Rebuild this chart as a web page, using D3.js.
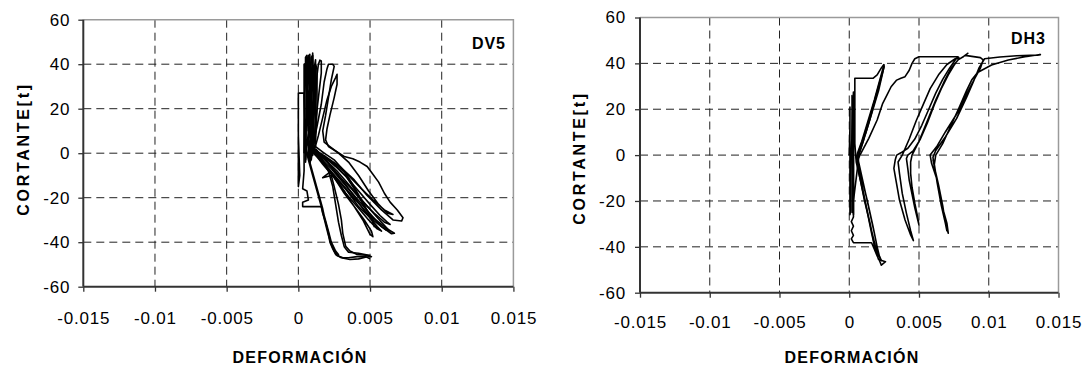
<!DOCTYPE html>
<html><head><meta charset="utf-8">
<script src="https://cdn.jsdelivr.net/npm/d3@7"></script>
<style>body{margin:0;background:#fff} svg{display:block}</style>
</head><body>
<svg id="c" width="1088" height="368"></svg>
<script>
const xTicks = [-0.015,-0.01,-0.005,0,0.005,0.01,0.015];
const xTickLabels = ["-0.015","-0.01","-0.005","0","0.005","0.01","0.015"];
const yTicks = [-60,-40,-20,0,20,40,60];
const xGrid = [-0.01,-0.005,0,0.005,0.01];
const yGrid = [-40,-20,0,20,40];

// ---- DV5 (deformation, shear) ----
const dv5Start = [[0,0],[0,16],[0,-6],[0,-15],[0.0001,-10],[0,8],[0,27],[0.0004,27],[0.0004,10],[0.0004,-8],[0.0003,-16],[0.0006,-17],[0.0007,-21],[0.0003,-22],[0.0003,-24],[0.0012,-24],[0.0016,-24],[0.0017,-27],[0.0019,-31],[0.0021,-36],[0.0022,-40],[0.0024,-43],[0.0026,-45.5],[0.003,-47],[0.0036,-47.8],[0.0042,-47.5],[0.0048,-46.5],[0.0051,-46.5],[0.0049,-46],[0.0041,-45.5],[0.0036,-44],[0.0033,-41.8],[0.0031,-36],[0.003,-30],[0.0028,-23],[0.0025,-15],[0.0023,-10],[0.0017,-11],[0.0022,-8.5],[0.0018,-4.5],[0.0012,-1],[0.0008,2]];
const dv5Core = [[0.0004,0],[0.0005,40],[0.0006,43],[0.0007,10],[0.0005,-4],[0.0006,30],[0.0007,44],[0.0009,20],[0.0008,-2],[0.0007,5],[0.0008,44.5],[0.001,15],[0.0009,0],[0.0009,30],[0.001,45],[0.0011,20],[0.001,2],[0.0011,38],[0.0012,42],[0.0012,10],[0.0008,-5],[0.0006,20],[0.0007,41],[0.0008,40],[0.0009,12],[0.0005,3],[0.0004,25],[0.0004,40],[0.0006,40.5],[0.0007,5]];
const dv5Core2 = [[0.0005,-3],[0.0006,35],[0.0006,42],[0.0008,35],[0.0009,8],[0.0007,-2],[0.0008,25],[0.0009,43],[0.001,44],[0.001,30],[0.0011,8],[0.0009,-3],[0.0011,25],[0.0012,40],[0.0013,38],[0.0013,20],[0.0012,5],[0.001,-1],[0.0007,15],[0.0005,35],[0.0005,43],[0.0006,44],[0.0008,30],[0.0007,10]];
const dv5Drop = [[0.0005,3],[0.0008,-4],[0.0011,-11],[0.0014,-18],[0.0017,-25],[0.0019,-31],[0.0021,-36],[0.0022,-39],[0.0024,-42],[0.0026,-44.5],[0.0028,-45.5],[0.0026,-44],[0.0023,-40],[0.0021,-35],[0.0018,-28],[0.0015,-21],[0.0012,-14],[0.0009,-7],[0.0006,0],[0.0007,-3],[0.001,-10],[0.0013,-17],[0.0016,-24],[0.0019,-32],[0.0021,-37],[0.0023,-41],[0.0025,-44],[0.0027,-46],[0.0031,-47],[0.0035,-47],[0.0041,-46.5],[0.0047,-46.5],[0.005,-47.5]];
const dv5Side = [[0.001,3],[0.0016,-2],[0.0021,-8],[0.0024,-15],[0.0026,-23],[0.0028,-31],[0.003,-37],[0.0032,-42],[0.0035,-44.5],[0.0042,-45],[0.005,-46]];
const dv5Up1 = [[0.0008,3],[0.001,12],[0.0012,25],[0.0013,35],[0.0014,40],[0.0015,41.8],[0.0016,41.5],[0.0016,36],[0.0014,25],[0.0012,14],[0.0011,6],[0.0012,3],[0.0018,0],[0.0025,-3],[0.0032,-8],[0.0038,-14],[0.0044,-21],[0.005,-28],[0.0053,-33],[0.0052,-30],[0.0046,-24],[0.004,-17],[0.0033,-10],[0.0025,-5],[0.0016,-1],[0.001,2]];
const dv5Up2 = [[0.001,3],[0.0013,12],[0.0016,22],[0.0018,32],[0.002,38],[0.0021,40],[0.0024,40],[0.0025,39],[0.0023,33],[0.0021,25],[0.0019,17],[0.0017,10],[0.0018,5],[0.0022,3],[0.0028,0],[0.0035,-4],[0.0042,-10],[0.0049,-17],[0.0056,-23],[0.0062,-27],[0.0066,-27.5],[0.006,-25.5],[0.0052,-21],[0.0044,-16],[0.0035,-10],[0.0026,-5],[0.0017,-1],[0.0011,1]];
const dv5Up3 = [[0.0011,1],[0.0014,8],[0.0017,16],[0.002,24],[0.0023,30],[0.0026,34],[0.0027,35.5],[0.0027,31],[0.0025,25],[0.0022,17],[0.002,11],[0.0019,6],[0.0021,3],[0.0026,1],[0.0032,-1.5],[0.0038,-2.5],[0.0043,-4],[0.0048,-6],[0.0052,-9.5],[0.0056,-13],[0.006,-18],[0.0064,-22],[0.0069,-25.5],[0.0073,-29],[0.0072,-30.5],[0.0066,-30],[0.0058,-25.5],[0.0048,-19],[0.0039,-12],[0.0029,-6],[0.0019,-1.5],[0.0012,1]];
const dv5Mid1 = [[0.0008,4],[0.0016,-3],[0.0024,-9],[0.0032,-15],[0.004,-21],[0.0048,-27],[0.0056,-31],[0.0062,-34],[0.0067,-36],[0.0065,-36.2],[0.0058,-33],[0.005,-29],[0.0042,-24],[0.0034,-17],[0.0026,-11],[0.0018,-5],[0.001,1]];
const dv5Mid2 = [[0.001,2],[0.0017,-4],[0.0025,-11],[0.0032,-18],[0.0039,-24],[0.0046,-30],[0.0051,-35],[0.0052,-37.5],[0.005,-36.5],[0.0045,-30],[0.0038,-23],[0.003,-15],[0.0022,-8],[0.0014,-2],[0.0008,3]];
const dv5Mid3 = [[0.0008,3],[0.0015,-2],[0.0023,-7],[0.0031,-13],[0.0039,-19],[0.0047,-25],[0.0054,-30],[0.0058,-33],[0.0061,-34.5],[0.0063,-34.5],[0.0058,-31],[0.0051,-26],[0.0043,-20],[0.0035,-14],[0.0027,-8],[0.0019,-3],[0.0011,1]];
const dv5Mid4 = [[0.0009,3],[0.0017,-1],[0.0026,-6],[0.0034,-11],[0.0042,-17],[0.005,-23],[0.0057,-28],[0.0062,-31],[0.0064,-32],[0.006,-31],[0.0053,-27],[0.0045,-22],[0.0037,-16],[0.0028,-10],[0.002,-4],[0.0012,1]];
const dv5Mid5 = [[0.0012,2],[0.0019,-3],[0.0027,-9],[0.0035,-16],[0.0043,-23],[0.005,-29],[0.0055,-33],[0.0058,-35],[0.0055,-34],[0.0049,-30],[0.0041,-24],[0.0033,-18],[0.0025,-11],[0.0017,-5],[0.001,1]];

// ---- DH3 ----
const dh3Start = [[0,0],[0.00005,12],[0.00005,21],[0.00005,0],[0.00005,-20],[0.00005,-26],[0.0001,-24],[0.0001,-10],[0.0002,10],[0.0003,27.5],[0.0003,10],[0.0003,-10],[0.0003,-27],[0.00015,-29],[0.0003,-31],[0.00015,-33],[0.0003,-35],[0.00015,-36.5],[0.0003,-38.2],[0.0016,-38.2],[0.0018,-41],[0.002,-44],[0.0022,-46.5],[0.0023,-48],[0.0026,-46.5],[0.0021,-45.5],[0.0019,-42],[0.0016,-34],[0.0012,-22],[0.0008,-11],[0.0005,-3],[0.0004,5],[0.0004,20],[0.0004,33.5],[0.0017,33.5],[0.002,35],[0.0023,38],[0.0025,39.6]];
const dh3Extra = [[0.0003,-26],[0.0003,20],[0.0002,26],[0.0002,-25],[0.0007,0],[0.0011,8],[0.0015,16],[0.0019,25],[0.0023,34],[0.0025,38.5],[0.0021,30],[0.0016,19],[0.0011,9],[0.0007,2]];
const dh3Small = [[0.0025,39.6],[0.0022,33],[0.0018,24],[0.0013,14],[0.0009,6],[0.0006,1],[0.0005,-1],[0.0009,-10],[0.0013,-20],[0.0017,-31],[0.002,-40],[0.0022,-45],[0.0019,-42],[0.0015,-30],[0.0011,-20],[0.0007,-8],[0.0006,-1],[0.0008,3],[0.0012,10],[0.0017,20],[0.0021,28],[0.0024,36],[0.0025,39],[0.0023,35],[0.0019,26],[0.0014,15],[0.001,6],[0.0007,1],[0.0006,-1],[0.001,-12],[0.0014,-23],[0.0018,-34],[0.0021,-43],[0.0023,-46],[0.002,-43],[0.0016,-33],[0.0012,-22],[0.0008,-10],[0.0006,-2]];
const dh3Big = [[0.0006,-2],[0.0009,1.5],[0.0014,7.3],[0.002,15.3],[0.0024,22.6],[0.0027,26.2],[0.003,29.8],[0.0034,32.7],[0.0037,33.5],[0.004,34.2],[0.0043,37],[0.0045,40],[0.0047,42],[0.005,42.9],[0.0065,42.9],[0.0078,42.9],[0.0076,41.5],[0.0072,38],[0.0067,33],[0.0062,27],[0.0057,20],[0.0052,13],[0.0047,7],[0.0042,3],[0.0037,1],[0.0034,0],[0.0033,-2],[0.0032,-5.8],[0.00335,-11],[0.0036,-19.6],[0.004,-28.3],[0.0044,-34.8],[0.0046,-37.3],[0.0044,-33],[0.0041,-25.4],[0.0038,-16.7],[0.0036,-8],[0.0035,-3],[0.0038,0],[0.0043,7],[0.0048,15],[0.0053,22],[0.0058,29],[0.0064,35],[0.007,39.5],[0.0076,42],[0.0079,42.5]];
const dh3Mid = [[0.0079,42.5],[0.0075,39],[0.0071,35],[0.0066,29],[0.0061,22],[0.0056,14],[0.0051,7],[0.0046,2],[0.0042,0],[0.0041,-1.5],[0.0042,-6],[0.0043,-11],[0.0045,-17],[0.0047,-23],[0.0049,-28],[0.005,-30.5],[0.0049,-27],[0.0047,-21],[0.0045,-14],[0.0044,-8],[0.0044,-3],[0.0045,0],[0.005,6],[0.0056,15],[0.0062,24],[0.0068,32],[0.0073,38],[0.0078,41.5],[0.0082,43],[0.0085,44.4],[0.0083,43.5],[0.0094,42.5],[0.0096,41.5],[0.0094,37.9],[0.009,33.5],[0.0085,27.6],[0.0078,18.9],[0.0069,10.2],[0.0063,4],[0.0058,0],[0.0059,-3.6],[0.0063,-10.9],[0.0066,-21],[0.007,-29.7],[0.0071,-34.1],[0.0069,-30],[0.0066,-22],[0.0063,-12],[0.0061,-4],[0.0062,0],[0.0067,5],[0.0073,13],[0.0079,21],[0.0084,28],[0.0088,33],[0.0092,36],[0.0095,37],[0.0102,39.3],[0.0114,41.5],[0.0126,42.9],[0.0137,43.8],[0.0135,43.6],[0.012,43.3],[0.0108,42.8],[0.0097,42],[0.0093,38],[0.0089,32],[0.0084,25],[0.0077,16],[0.0069,8],[0.0062,2],[0.006,-1],[0.0061,-5],[0.0064,-13],[0.0067,-22],[0.0069,-30],[0.007,-33],[0.0068,-27],[0.0065,-17],[0.0062,-8],[0.006,-2]];

const dv5Series = [dv5Start, dv5Core, dv5Core2, dv5Drop, dv5Side, dv5Up1, dv5Up2, dv5Up3, dv5Mid1, dv5Mid2, dv5Mid3, dv5Mid4, dv5Mid5];
const dh3Series = [dh3Start, dh3Extra, dh3Small, dh3Big, dh3Mid];

const svg = d3.select("#c");
const FONT = "'Liberation Sans', Arial, sans-serif";

function drawPanel(p) {
  const x = d3.scaleLinear().domain([-0.015, 0.015]).range([p.x0, p.x1]);
  const y = d3.scaleLinear().domain([-60, 60]).range([p.y1, p.y0]);
  const g = svg.append("g");

  g.selectAll(".gx").data(xGrid).join("line")
    .attr("x1", d => x(d)).attr("x2", d => x(d)).attr("y1", p.y0).attr("y2", p.y1)
    .attr("stroke", "#222").attr("stroke-width", 1).attr("stroke-dasharray", "8,5");
  g.selectAll(".gy").data(yGrid).join("line")
    .attr("x1", p.x0).attr("x2", p.x1).attr("y1", d => y(d)).attr("y2", d => y(d))
    .attr("stroke", "#222").attr("stroke-width", 1).attr("stroke-dasharray", "8,5");

  g.append("path").attr("d", `M${p.x0},${p.y0}H${p.x1}V${p.y1}`)
    .attr("fill", "none").attr("stroke", "#9a9a9a").attr("stroke-width", 1.5);

  const line = d3.line().x(d => x(d[0])).y(d => y(d[1]));
  g.selectAll(".s").data(p.series).join("path")
    .attr("d", line).attr("fill", "none").attr("stroke", "#000")
    .attr("stroke-width", 1.6).attr("stroke-linejoin", "round");

  const ay = g.append("g").attr("transform", `translate(${p.x0},0)`)
    .call(d3.axisLeft(y).tickValues(yTicks).tickSize(5).tickPadding(p.yPad).tickFormat(d => d));
  const ax = g.append("g").attr("transform", `translate(0,${p.y1})`)
    .call(d3.axisBottom(x).tickValues(xTicks).tickSize(5).tickPadding(p.xPad).tickFormat((d, i) => xTickLabels[i]));
  [ay, ax].forEach(a => {
    a.select(".domain").attr("stroke", "#333").attr("stroke-width", 2);
    a.selectAll(".tick line").attr("stroke", "#333").attr("stroke-width", 1.3);
    a.selectAll(".tick text").attr("fill", "#000").style("font-family", FONT)
      .style("font-size", "17px").style("letter-spacing", "0.8px");
  });
  ax.select(".domain").attr("d", `M${p.x0},0H${p.x1}`);
  ay.select(".domain").attr("d", `M0,${p.y0}V${p.y1}`);

  g.append("text").attr("x", p.titleX).attr("y", p.titleY).attr("text-anchor", "end")
    .style("font-family", FONT).style("font-weight", "bold").style("font-size", "16px")
    .style("letter-spacing", "1px").text(p.title);
  g.append("text").attr("x", p.xtX).attr("y", p.xtY).attr("text-anchor", "middle")
    .style("font-family", FONT).style("font-weight", "bold").style("font-size", "16px")
    .style("letter-spacing", "1.3px").text("DEFORMACIÓN");
  g.append("text").attr("transform", `translate(${p.ytX},${p.ytY}) rotate(-90)`).attr("text-anchor", "middle")
    .style("font-family", FONT).style("font-weight", "bold").style("font-size", "16px")
    .style("letter-spacing", "2.7px").text("CORTANTE[t]");
}

drawPanel({x0: 83.3, x1: 513.4, y0: 19.7, y1: 286.7, yPad: 8, xPad: 20,
  series: dv5Series, title: "DV5", titleX: 506, titleY: 49,
  xtX: 300, xtY: 363, ytX: 29, ytY: 149});
drawPanel({x0: 640, x1: 1058.5, y0: 17.5, y1: 292.7, yPad: 9, xPad: 18,
  series: dh3Series, title: "DH3", titleX: 1046, titleY: 44,
  xtX: 852, xtY: 363, ytX: 585, ytY: 158});
</script>
</body></html>
